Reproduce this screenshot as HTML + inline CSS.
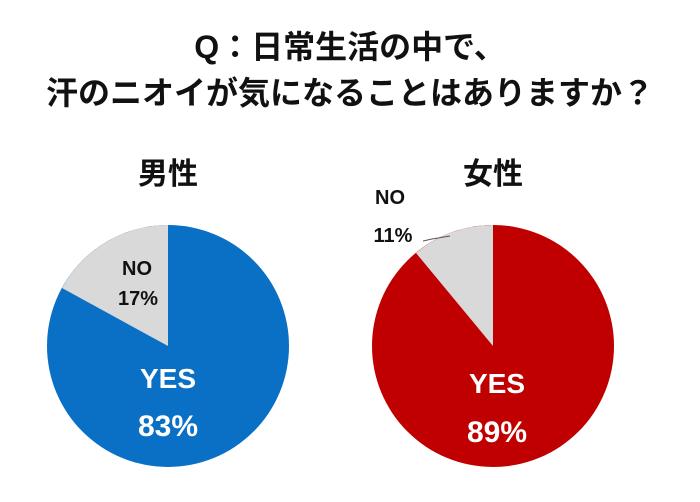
<!DOCTYPE html>
<html><head><meta charset="utf-8"><style>
body{margin:0;background:#fff;}
svg text{font-family:"Liberation Sans","Noto Sans CJK JP",sans-serif;font-weight:bold;}
</style></head><body>
<svg width="700" height="497" viewBox="0 0 700 497" xmlns="http://www.w3.org/2000/svg">
<rect width="700" height="497" fill="#fff"/>
<text x="350" y="58" font-size="32" text-anchor="middle" fill="#111">Q：日常生活の中で、</text>
<text x="350" y="104" font-size="32" text-anchor="middle" fill="#111">汗のニオイが気になることはありますか？</text>
<text x="168" y="184" font-size="30" text-anchor="middle" fill="#111">男性</text>
<text x="493" y="184" font-size="30" text-anchor="middle" fill="#111">女性</text>
<circle cx="168" cy="346" r="121" fill="#0a70c6"/>
<path d="M168,346 L168,225 A121,121 0 0 0 62,288 Z" fill="#d9d9d9"/>
<circle cx="493" cy="346" r="121" fill="#c00000"/>
<path d="M493,346 L493,225 A121,121 0 0 0 416,253 Z" fill="#d9d9d9"/>
<polyline points="423,241 432,239 450,236" fill="none" stroke="#555" stroke-width="1"/>
<text x="137" y="275" font-size="20" text-anchor="middle" fill="#111">NO</text>
<text x="138" y="305" font-size="20" text-anchor="middle" fill="#111">17%</text>
<text x="390" y="204" font-size="20" text-anchor="middle" fill="#111">NO</text>
<text x="393" y="242" font-size="20" text-anchor="middle" fill="#111">11%</text>
<text x="168" y="388" font-size="28" text-anchor="middle" fill="#fff">YES</text>
<text x="168" y="436" font-size="30" text-anchor="middle" fill="#fff">83%</text>
<text x="497" y="393" font-size="28" text-anchor="middle" fill="#fff">YES</text>
<text x="497" y="442" font-size="30" text-anchor="middle" fill="#fff">89%</text>
</svg>
</body></html>
